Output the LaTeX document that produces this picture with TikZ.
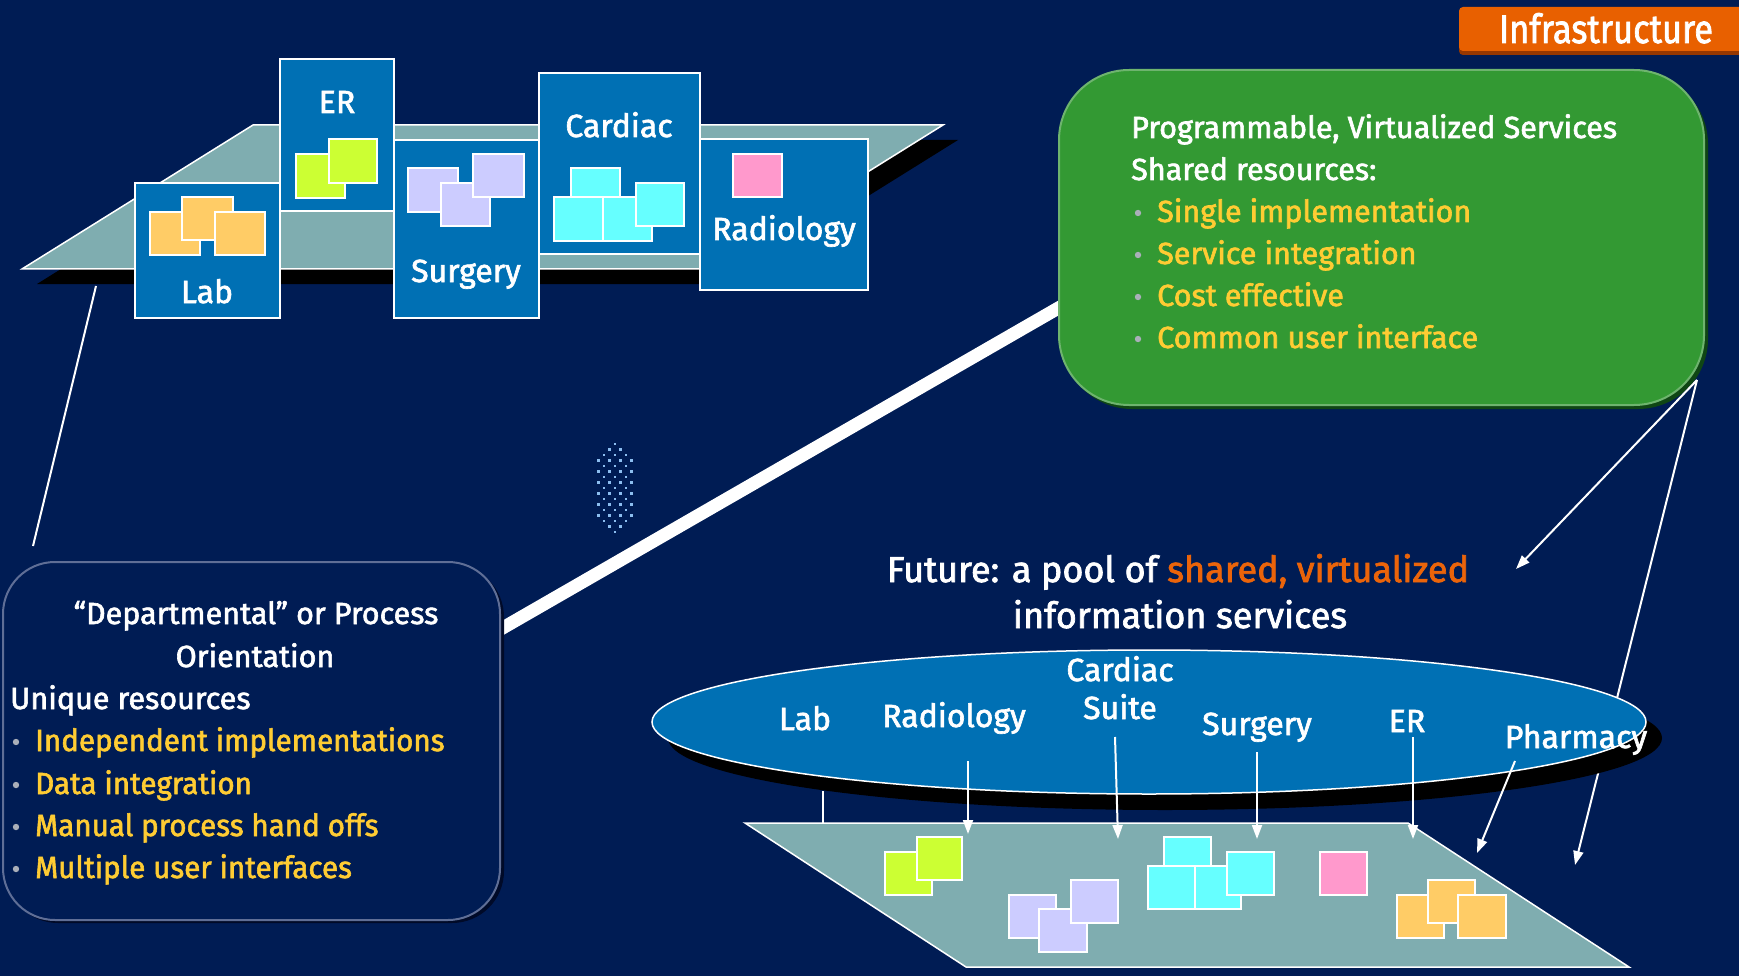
\documentclass[tikz,border=0pt]{standalone}
\usepackage{fontspec}
\setmainfont{Fira Sans}[FakeBold=2]
\usetikzlibrary{arrows.meta,shapes.geometric}
\definecolor{bg}{RGB}{0,28,84}
\definecolor{deptblue}{RGB}{0,112,180}
\definecolor{platteal}{RGB}{127,173,176}
\definecolor{boxgreen}{RGB}{51,153,51}
\definecolor{greenedge}{RGB}{110,180,110}
\definecolor{greenshadow}{RGB}{15,70,20}
\definecolor{yellowtxt}{RGB}{255,204,51}
\definecolor{orangetxt}{RGB}{235,100,10}
\definecolor{taborange}{RGB}{232,96,0}
\definecolor{tabshadow}{RGB}{150,55,0}
\definecolor{lime}{RGB}{204,255,51}
\definecolor{lav}{RGB}{204,204,255}
\definecolor{cyandoc}{RGB}{102,255,255}
\definecolor{pinkdoc}{RGB}{255,153,204}
\definecolor{orangedoc}{RGB}{255,204,102}
\definecolor{bulletc}{RGB}{170,175,185}
\definecolor{dotc}{RGB}{140,190,240}
\definecolor{leftedge}{RGB}{95,110,150}
\definecolor{leftshadow}{RGB}{0,10,40}
\newcommand\cnd[1]{\scalebox{0.86}[1]{#1}}
\tikzset{
  plat/.style={fill=platteal, draw=white, line width=1.5pt},
  dept/.style={fill=deptblue, draw=white, line width=1.5pt, inner sep=0pt, outer sep=0pt, anchor=north west},
  doc/.style={draw=white, line width=1.2pt},
  lbl/.style={text=white, inner sep=0pt, anchor=base, font=\fontsize{32}{36}\selectfont},
  txt/.style={inner sep=0pt, anchor=base west, font=\fontsize{30.5}{36}\selectfont},
  conn/.style={draw=white, line width=2pt},
  arr/.style={conn, -{Triangle[length=14pt, width=10pt]}},
  bul/.style={fill=bulletc},
}
\begin{document}
\begin{tikzpicture}[x=1pt,y=-1pt]
\useasboundingbox (0,0) rectangle (1739,976);
\fill[bg] (0,0) rectangle (1739,976);

% ---------- thick link and thin link ----------
\coordinate (thickA) at (1081,295);
\coordinate (thickB) at (480,641);
\draw[white, line width=13pt] (thickA) -- (thickB);
\coordinate (thinA) at (96,286);
\coordinate (thinB) at (33,546);
\draw[conn] (thinA) -- (thinB);

% ---------- top-left platform ----------
\fill[black] (268,140) -- (958,140) -- (727,284) -- (37,284) -- cycle;
\draw[plat] (253,125) -- (943,125) -- (712,269) -- (22,269) -- cycle;

\node[dept, minimum width=145pt, minimum height=135pt] (lab) at (135,183) {};
\node[dept, minimum width=114pt, minimum height=152pt] (er) at (280,59) {};
\node[dept, minimum width=145pt, minimum height=178pt] (surg) at (394,140) {};
\node[dept, minimum width=161pt, minimum height=181pt] (card) at (539,73) {};
\node[dept, minimum width=168pt, minimum height=151pt] (rad) at (700,139) {};

\draw[doc, fill=orangedoc] (150,212) rectangle (200,255);
\draw[doc, fill=orangedoc] (182,197) rectangle (233,240);
\draw[doc, fill=orangedoc] (215,212) rectangle (265,255);
\draw[doc, fill=lime] (296,154) rectangle (345,198);
\draw[doc, fill=lime] (329,139) rectangle (377,183);
\draw[doc, fill=lav] (408,168) rectangle (458,212);
\draw[doc, fill=lav] (441,183) rectangle (490,226);
\draw[doc, fill=lav] (473,154) rectangle (524,197);
\draw[doc, fill=cyandoc] (571,168) rectangle (620,212);
\draw[doc, fill=cyandoc] (554,197) rectangle (603,241);
\draw[doc, fill=cyandoc] (603,197) rectangle (652,241);
\draw[doc, fill=cyandoc] (636,183) rectangle (684,226);
\draw[doc, fill=pinkdoc] (733,154) rectangle (782,197);

\node[lbl] (labt) at (207,303) {Lab};
\node[lbl] (ert) at (337,113) {ER};
\node[lbl] (surgt) at (466,282) {Surgery};
\node[lbl] (cardt) at (619,137) {Cardiac};
\node[lbl] (radt) at (784,240) {Radiology};

% ---------- dotted pattern ----------
\foreach \r in {-8,...,8}{
  \foreach \c in {-3,...,3}{
    \pgfmathtruncatemacro{\ok}{(abs(\c)<=8-abs(\r)) && (mod(\r+\c+20,2)==0)}
    \ifnum\ok=1
      \fill[dotc] ({615+\c*5.5-1.1},{488+\r*5.5-1.1}) rectangle ++(2.2,2.2);
    \fi
  }
}

% ---------- left rounded box ----------
\fill[leftshadow, rounded corners=52pt] (6,565) rectangle (504,923);
\draw[leftedge, fill=bg, line width=2pt, rounded corners=52pt] (3,562) rectangle (500,920);
\node[txt, anchor=base, text=white] (lh1) at (256,624) {“Departmental” or Process};
\node[txt, anchor=base, text=white] (lh2) at (255,667) {Orientation};
\node[txt, text=white] (lu) at (10,709) {Unique resources};
\foreach \yy/\t/\nm in {751/Independent implementations/l1, 794/Data integration/l2, 836/Manual process hand offs/l3, 878/Multiple user interfaces/l4}{
  \fill[bul] (16,\yy-9) circle (3.2pt);
  \node[txt, text=yellowtxt] (\nm) at (35,\yy) {\scalebox{0.97}[1]{\t}};
}

% ---------- green box ----------
\fill[greenshadow, rounded corners=70pt] (1062,74) rectangle (1708,409);
\draw[greenedge, fill=boxgreen, line width=2pt, rounded corners=70pt] (1059,70) rectangle (1704,405);
\node[txt, text=white] (g1) at (1131,138) {Programmable, Virtualized Services};
\node[txt, text=white] (g2) at (1131,180) {Shared resources:};
\foreach \yy/\t/\nm in {222/Single implementation/g3, 264/Service integration/g4, 306/Cost effective/g5, 348/Common user interface/g6}{
  \fill[bul] (1138,\yy-9) circle (3.2pt);
  \node[txt, text=yellowtxt] (\nm) at (1157,\yy) {\t};
}

% ---------- Infrastructure tab ----------
\fill[tabshadow, rounded corners=4pt] (1459,11) rectangle (1745,55);
\fill[taborange, rounded corners=4pt] (1459,7) rectangle (1745,51);
\node[inner sep=0pt, anchor=base, text=white, font=\fontsize{40}{44}\selectfont] (infra) at (1606,43) {\cnd{Infrastructure}};

% ---------- Future text ----------
\node[inner sep=0pt, anchor=base, text=white, font=\fontsize{36}{40}\selectfont] (fut1) at (1178,582) {Future: a pool of \textcolor{orangetxt}{shared, virtualized}};
\node[inner sep=0pt, anchor=base, text=white, font=\fontsize{36}{40}\selectfont] (fut2) at (1180,628) {information services};

% ---------- arrows from green box ----------
\coordinate (gcorner) at (1697,380);
\coordinate (arrA) at (1516,569);
\coordinate (arrB) at (1575,865);
\draw[arr] (gcorner) -- (arrA);
\draw[arr] (gcorner) -- (arrB);

% ---------- bottom platform ----------
\draw[plat] (745,823) -- (1408,823) -- (1629,967) -- (966,967) -- cycle;
\draw[doc, fill=lime] (885,852) rectangle (932,895);
\draw[doc, fill=lime] (917,837) rectangle (962,880);
\draw[doc, fill=lav] (1009,895) rectangle (1056,938);
\draw[doc, fill=lav] (1039,909) rectangle (1087,952);
\draw[doc, fill=lav] (1071,880) rectangle (1118,923);
\draw[doc, fill=cyandoc] (1164,837) rectangle (1211,880);
\draw[doc, fill=cyandoc] (1148,866) rectangle (1195,909);
\draw[doc, fill=cyandoc] (1195,866) rectangle (1241,909);
\draw[doc, fill=cyandoc] (1227,852) rectangle (1274,895);
\draw[doc, fill=pinkdoc] (1320,852) rectangle (1367,895);
\draw[doc, fill=orangedoc] (1397,895) rectangle (1444,938);
\draw[doc, fill=orangedoc] (1428,880) rectangle (1475,923);
\draw[doc, fill=orangedoc] (1458,895) rectangle (1506,938);

% ---------- pool ellipse ----------
\fill[black] (1165,738) ellipse [x radius=497pt, y radius=72pt];
\node[ellipse, draw=white, fill=deptblue, line width=1.5pt, inner sep=0pt, minimum width=994pt, minimum height=144pt] (pool) at (1149,722) {};
\node[lbl] (plab) at (805,730) {Lab};
\node[lbl] (prad) at (954,727) {Radiology};
\node[lbl] (pcard) at (1120,681) {Cardiac};
\node[lbl] (psuite) at (1120,719) {Suite};
\node[lbl] (psurg) at (1257,735) {Surgery};
\node[lbl] (per) at (1407,732) {ER};
\node[lbl] (pphar) at (1576,748) {Pharmacy};

% ---------- arrows pool -> platform ----------
\coordinate (labS) at (823,791);  \coordinate (labE) at (823,823);
\coordinate (radS) at (968,761);  \coordinate (radE) at (968,834);
\coordinate (carS) at (1115,737); \coordinate (carE) at (1118,839);
\coordinate (surS) at (1257,752); \coordinate (surE) at (1257,839);
\coordinate (erS) at (1413,737);  \coordinate (erE) at (1413,839);
\coordinate (phS) at (1515,761);  \coordinate (phE) at (1477,853);
\draw[conn] (labS) -- (labE);
\draw[arr] (radS) -- (radE);
\draw[arr] (carS) -- (carE);
\draw[arr] (surS) -- (surE);
\draw[arr] (erS) -- (erE);
\draw[arr] (phS) -- (phE);
\end{tikzpicture}
\end{document}
